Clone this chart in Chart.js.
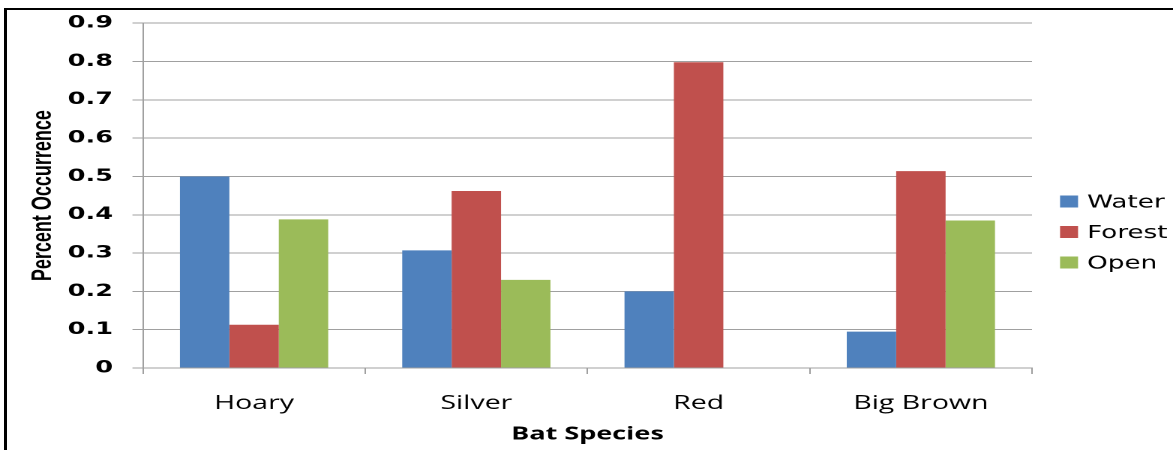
<!DOCTYPE html>
<html>
<head>
<meta charset="utf-8">
<script src="https://cdn.jsdelivr.net/npm/chart.js@4.4.1/dist/chart.umd.min.js"></script>
<style>
  html, body { margin: 0; padding: 0; background: #fff; width: 1173px; height: 450px; overflow: hidden; }
  #wrap { position: relative; width: 1173px; height: 450px; }
  #c { position: absolute; left: 0; top: 0; }
  #frame { position: absolute; left: 4px; top: 8px; right: -10px; bottom: -10px;
           border-top: 2px solid #000; border-left: 3px solid #000; pointer-events: none; }
</style>
</head>
<body>
<div id="wrap">
  <!-- drawn on a narrower canvas and widened by CSS, which gives the wide lettering -->
  <canvas id="c" width="782" height="450" style="width:1173px;height:450px"></canvas>
  <div id="frame"></div>
</div>
<script>
const species = ['Hoary', 'Silver', 'Red', 'Big Brown'];
const water  = [0.500, 0.307, 0.200, 0.095];
const forest = [0.113, 0.462, 0.798, 0.514];
const open   = [0.388, 0.230, 0.000, 0.385];
const seriesNames  = ['Water', 'Forest', 'Open'];
const seriesColors = ['#4F81BD', '#C0504D', '#9BBB59'];
const yTickLabels  = ['0', '0.1', '0.2', '0.3', '0.4', '0.5', '0.6', '0.7', '0.8', '0.9'];
const yTitle = 'Percent Occurrence';
const xTitle = 'Bat Species';

const GRID = '#a0a0a0';
const PLOT_LEFT = 95.3;     // left edge of the plot area (canvas units)
const PLOT_BOTTOM = 368;    // zero line

// Legend at the right, drawn on the canvas after the chart
const sideLegend = {
  id: 'sideLegend',
  afterDraw(chart) {
    const ctx = chart.ctx;
    const rows = [202, 232.5, 263];
    ctx.save();
    ctx.font = '17.5px "DejaVu Sans"';
    ctx.textBaseline = 'middle';
    ctx.textAlign = 'left';
    chart.data.datasets.forEach((ds, i) => {
      const y = rows[i];
      ctx.fillStyle = ds.backgroundColor;
      ctx.fillRect(706.7, y - 6.5, 12, 12);
      ctx.fillStyle = '#000';
      ctx.fillText(ds.label, 724.7, y + 1);
    });
    ctx.restore();
  }
};

new Chart(document.getElementById('c'), {
  type: 'bar',
  data: {
    labels: species,
    datasets: [water, forest, open].map((vals, i) => ({
      label: seriesNames[i],
      data: vals,
      backgroundColor: seriesColors[i],
      borderWidth: 0,
      categoryPercentage: 0.667,
      barPercentage: 1.0
    }))
  },
  options: {
    responsive: false,
    animation: false,
    devicePixelRatio: 2,
    layout: { padding: { left: 0, right: 94, top: 23, bottom: 0 } },
    plugins: { legend: { display: false }, tooltip: { enabled: false } },
    scales: {
      x: {
        grid: { display: true, drawOnChartArea: false, drawTicks: true, tickLength: 6, color: GRID, offset: true },
        border: { display: true, color: GRID },
        ticks: { color: '#000', font: { family: '"Open Sans"', size: 19 }, padding: 18, maxRotation: 0 },
        title: { display: true, text: xTitle, color: '#000',
                 font: { family: '"Open Sans"', size: 18, weight: 'bold' }, padding: { top: 0, bottom: 5 } },
        afterFit(scale) { scale.height = 450 - PLOT_BOTTOM; }
      },
      y: {
        min: 0, max: 0.9,
        grid: { color: GRID, tickLength: 7, drawTicks: true },
        border: { display: true, color: GRID },
        ticks: {
          stepSize: 0.1,
          color: '#000',
          padding: 13,
          font: { family: '"DejaVu Sans"', size: 17, weight: 'bold' },
          callback: (v) => yTickLabels[Math.round(v * 10)]
        },
        title: { display: true, text: yTitle, color: '#000',
                 font: { family: '"Liberation Sans"', size: 18, weight: 'bold' }, padding: { top: 18, bottom: 0 } },
        afterFit(scale) { scale.width = PLOT_LEFT; }
      }
    }
  },
  plugins: [sideLegend]
});
</script>
</body>
</html>
